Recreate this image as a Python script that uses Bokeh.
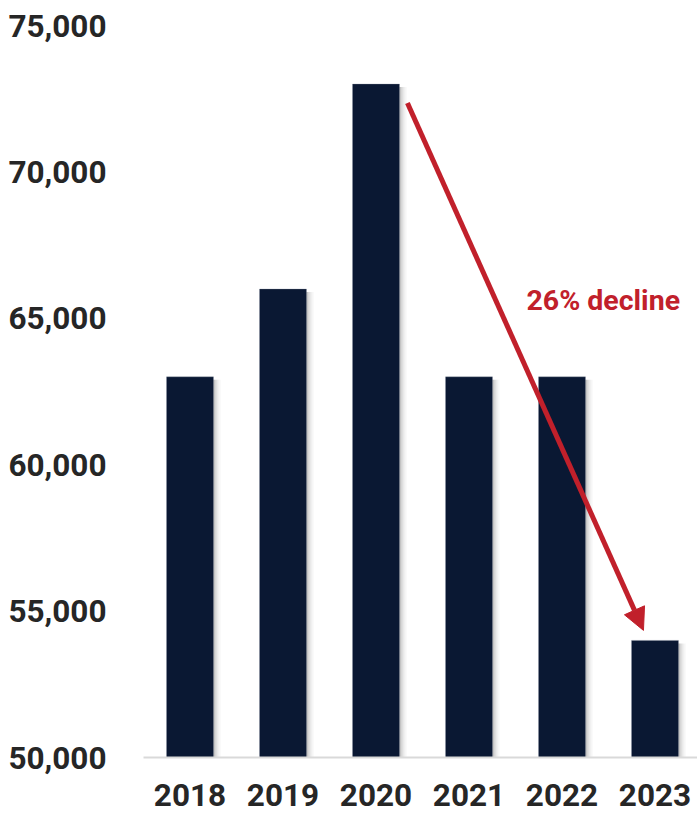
from bokeh.plotting import figure
from bokeh.models import (Range1d, FixedTicker, NumeralTickFormatter, Arrow,
                          NormalHead, ColumnDataSource, Label)
from bokeh.embed import file_html
from bokeh.resources import INLINE

years = ["2018", "2019", "2020", "2021", "2022", "2023"]
values = [63000, 66000, 73000, 63000, 63000, 54000]
y_ticks = [50000, 55000, 60000, 65000, 70000, 75000]
annotation_text = "26% decline"

BAR = "#0a1833"
RED = "#c1202b"
TXT = "#262626"

idx = list(range(len(years)))
W, H = 697, 814
p = figure(width=W, height=H, output_backend="svg", toolbar_location=None,
           x_range=Range1d(-0.5, -0.5 + 554 / 93), y_range=Range1d(50000, 75000),
           min_border_left=143, min_border_right=0, min_border_top=25,
           min_border_bottom=57)
p.outline_line_color = None
p.grid.visible = False
p.background_fill_color = "white"
p.border_fill_color = "white"

px = 1 / 93.0  # one pixel in x data units
py = 5000 / 146.4  # one pixel in y data units

# soft shadow to the right of bars
for k, a in [(7, 0.05), (5, 0.08), (3, 0.12), (1.5, 0.15)]:
    src = ColumnDataSource(dict(x=[i + k * px for i in idx],
                                top=[v - 3 * py for v in values]))
    p.vbar(x="x", top="top", bottom=50000, width=0.505, source=src,
           fill_color="#555555", fill_alpha=a, line_color=None)

src = ColumnDataSource(dict(x=idx, top=values))
p.vbar(x="x", top="top", bottom=50000, width=0.505, source=src,
       fill_color=BAR, line_color="#8a90a0", line_width=0.6, line_alpha=0.5)

# arrow from 2020 bar top to 2023 bar top
i0, i1 = years.index("2020"), years.index("2023")
p.add_layout(Arrow(x_start=i0 + 0.252 + 8 * px, y_start=values[i0] - 19 * py,
                   x_end=i1 - 0.124, y_end=values[i1] + 10 * py,
                   line_color=RED, line_width=5,
                   end=NormalHead(size=22, fill_color=RED, line_color=RED)))

p.add_layout(Label(x=i0 + 0.252 + 8 * px + 119 * px, y=values[i0] - 216 * py,
                   text=annotation_text, text_color=RED, text_font="Roboto",
                   text_font_style="bold", text_font_size="28.5px",
                   text_baseline="middle", text_align="left"))

yax = p.yaxis[0]
yax.ticker = FixedTicker(ticks=y_ticks)
yax.formatter = NumeralTickFormatter(format="0,0")
yax.axis_line_color = None
yax.major_tick_line_color = None
yax.minor_tick_line_color = None
yax.major_label_standoff = 31
yax.major_label_text_font = "Roboto"
yax.major_label_text_font_style = "bold"
yax.major_label_text_font_size = "31.5px"
yax.major_label_text_color = TXT

xax = p.xaxis[0]
xax.ticker = FixedTicker(ticks=idx)
xax.major_label_overrides = {i: y for i, y in zip(idx, years)}
xax.axis_line_color = "#d9d9d9"
xax.axis_line_width = 2
xax.major_tick_line_color = None
xax.minor_tick_line_color = None
xax.major_label_standoff = 20
xax.major_label_text_font = "Roboto"
xax.major_label_text_font_style = "bold"
xax.major_label_text_font_size = "31.5px"
xax.major_label_text_color = TXT

open("out.html", "w").write(file_html(p, INLINE))
